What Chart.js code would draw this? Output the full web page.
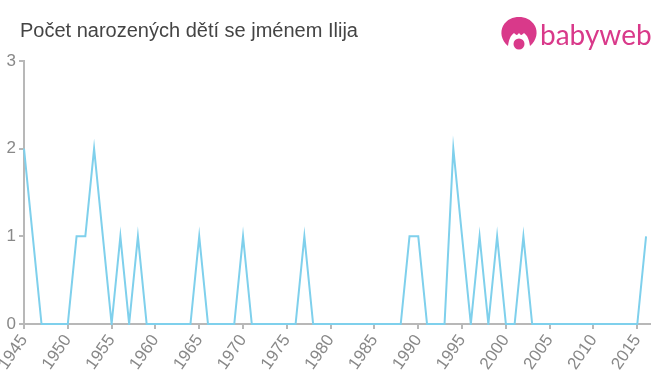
<!DOCTYPE html>
<html>
<head>
<meta charset="utf-8">
<title>Ilija</title>
<script src="https://cdn.jsdelivr.net/npm/chart.js@4"></script>
<style>
  html, body { margin: 0; padding: 0; background: #fff; }
  #wrap { position: relative; width: 660px; height: 375px; overflow: hidden; }
  #chartTitle { position: absolute; left: 20px; top: 19px; font: 20px "Liberation Sans", Arial, sans-serif; color: #444; white-space: nowrap; }
  #logo { position: absolute; left: 500px; top: 16px; }
  #logoText { position: absolute; left: 540px; top: 17px; font: 28px Lato, sans-serif; color: #d9398a; }
</style>
</head>
<body>
<div id="wrap">
  <canvas id="birthChart" width="660" height="375"></canvas>
  <div id="chartTitle">Počet narozených dětí se jménem Ilija</div>
  <svg id="logo" width="38" height="38" viewBox="0 0 38 38">
    <path d="M8 30 C1 24 0 16 3 10 C7 3 13 1 19 1 C25 1 31 3 35 10 C38 16 37 24 30 30 C29 24 28 20 24 17 C22 19 21 20 19 17 C17 20 16 19 14 17 C10 20 9 24 8 30 Z" fill="#d9398a"/>
    <circle cx="19" cy="28" r="5.5" fill="#d9398a"/>
  </svg>
  <div id="logoText">babyweb</div>
</div>
<script>
const years = [
  1945, 1946, 1947, 1948, 1949, 1950, 1951, 1952, 1953, 1954, 1955, 1956,
  1957, 1958, 1959, 1960, 1961, 1962, 1963, 1964, 1965, 1966, 1967, 1968,
  1969, 1970, 1971, 1972, 1973, 1974, 1975, 1976, 1977, 1978, 1979, 1980,
  1981, 1982, 1983, 1984, 1985, 1986, 1987, 1988, 1989, 1990, 1991, 1992,
  1993, 1994, 1995, 1996, 1997, 1998, 1999, 2000, 2001, 2002, 2003, 2004,
  2005, 2006, 2007, 2008, 2009, 2010, 2011, 2012, 2013, 2014, 2015, 2016
];
const births = [
  2, 1, 0, 0, 0, 0, 1, 1, 2, 1, 0, 1,
  0, 1, 0, 0, 0, 0, 0, 0, 1, 0, 0, 0,
  0, 1, 0, 0, 0, 0, 0, 0, 1, 0, 0, 0,
  0, 0, 0, 0, 0, 0, 0, 0, 1, 1, 0, 0,
  0, 2, 1, 0, 1, 0, 1, 0, 0, 1, 0, 0,
  0, 0, 0, 0, 0, 0, 0, 0, 0, 0, 0, 1
];
const xTicks = [1945, 1950, 1955, 1960, 1965, 1970, 1975, 1980, 1985, 1990, 1995, 2000, 2005, 2010, 2015];
const yTicks = [0, 1, 2, 3];

const axisColor = '#b8b8b8';
const tickFont = { family: '"Liberation Sans", Arial, sans-serif', size: 17 };

// the spikes are narrow, default miter limit would cut their tips off
const sharpPeaks = {
  id: 'sharpPeaks',
  beforeDatasetsDraw(chart) { chart.ctx.miterLimit = 20; }
};

new Chart(document.getElementById('birthChart').getContext('2d'), {
  type: 'line',
  plugins: [sharpPeaks],
  data: {
    datasets: [{
      data: years.map((y, i) => ({ x: y, y: births[i] })),
      borderColor: '#7fd0ec',
      borderWidth: 2,
      pointRadius: 0,
      tension: 0,
      clip: 1
    }]
  },
  options: {
    responsive: false,
    animation: false,
    layout: { padding: { top: 61, right: 10, left: 0, bottom: 0 } },
    plugins: { legend: { display: false }, tooltip: { enabled: false } },
    scales: {
      x: {
        type: 'linear',
        min: 1945,
        max: 2016.45,
        afterBuildTicks: axis => { axis.ticks = xTicks.map(v => ({ value: v })); },
        afterFit: axis => { axis.height = 51; axis.paddingLeft = 0; axis.paddingRight = 0; },
        ticks: {
          color: '#888',
          font: tickFont,
          padding: 2,
          autoSkip: false,
          minRotation: 55,
          maxRotation: 55,
          callback: v => String(v)
        },
        grid: { drawOnChartArea: false, color: axisColor, lineWidth: 2, tickLength: 5 },
        border: { color: axisColor, width: 2 }
      },
      y: {
        min: 0,
        max: 3,
        afterBuildTicks: axis => { axis.ticks = yTicks.map(v => ({ value: v })); },
        afterFit: axis => { axis.width = 24; axis.paddingTop = 0; axis.paddingBottom = 0; },
        ticks: { color: '#888', font: tickFont, padding: 3 },
        grid: { drawOnChartArea: false, color: axisColor, lineWidth: 2, tickLength: 5 },
        border: { color: axisColor, width: 2 }
      }
    }
  }
});
</script>
</body>
</html>
